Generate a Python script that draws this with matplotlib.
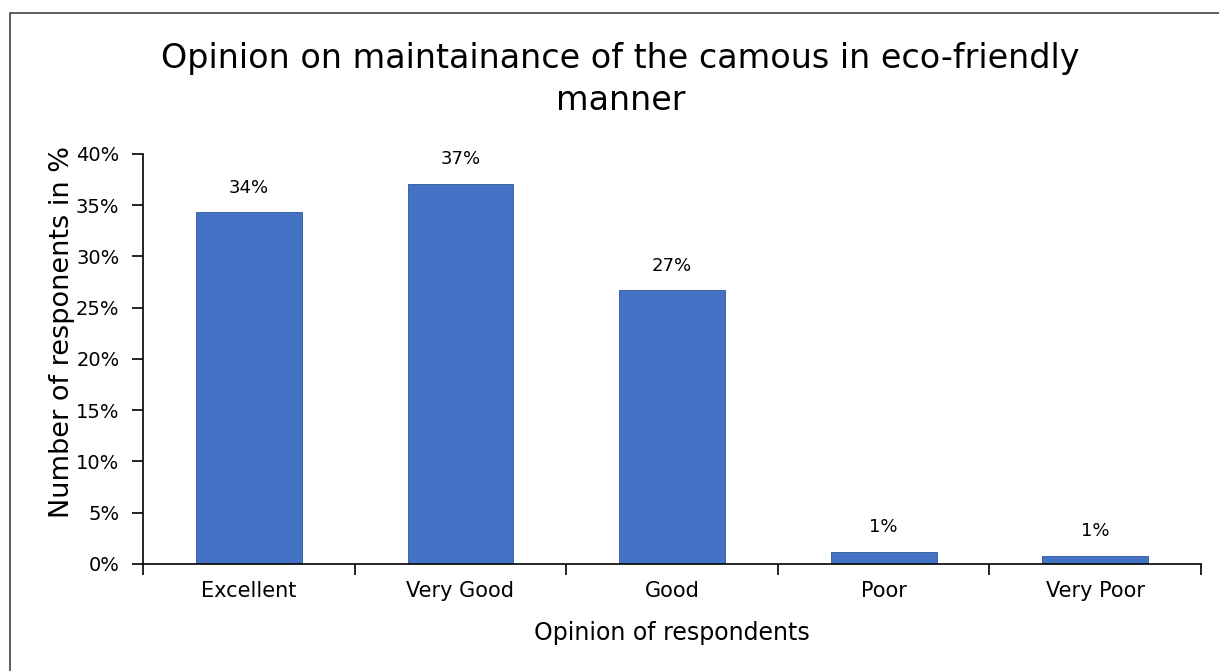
import matplotlib.pyplot as plt
from matplotlib.patches import Rectangle

categories = ["Excellent", "Very Good", "Good", "Poor", "Very Poor"]
values = [34.3, 37.1, 26.7, 1.2, 0.8]
labels = ["34%", "37%", "27%", "1%", "1%"]

plt.rcParams['font.family'] = ['DejaVu Sans']

fig = plt.figure(figsize=(12.19, 6.71), dpi=100)
ax = fig.add_axes([0.1173, 0.1595, 0.868, 0.611])

x = range(len(categories))
bars = ax.bar(x, values, width=0.5, color="#4472C4", edgecolor="#2F5597", linewidth=0.6)
for b, lab in zip(bars, labels):
    ax.text(b.get_x() + b.get_width() / 2, b.get_height() + 1.5, lab,
            ha="center", va="bottom", fontsize=13)

ax.set_xlim(-0.5, len(categories) - 0.5)
ax.set_ylim(0, 40)
ax.set_yticks(range(0, 41, 5))
ax.set_yticklabels([f"{v}%" for v in range(0, 41, 5)], fontsize=14)
ax.set_xticks(list(x))
ax.set_xticklabels(categories, fontsize=15)
ax.tick_params(axis="x", length=0, pad=12)
ax.set_xticks([i - 0.5 for i in range(len(categories) + 1)], minor=True)
ax.tick_params(axis="x", which="minor", length=8, width=1.2, direction="out")
ax.tick_params(axis="y", length=8, width=1.2, direction="out", pad=9)

for s in ["top", "right"]:
    ax.spines[s].set_visible(False)
ax.spines["left"].set_linewidth(1.2)
ax.spines["bottom"].set_linewidth(1.2)

ax.set_xlabel("Opinion of respondents", fontsize=17, labelpad=15)
ax.set_ylabel("Number of responents in %", fontsize=19.5)
ax.yaxis.set_label_coords(-0.064, 0.566)

fig.text(0.509, 0.882, "Opinion on maintainance of the camous in eco-friendly\nmanner",
         ha="center", va="center", fontsize=24, linespacing=1.35)

fig.patches.append(Rectangle((0.0085, -0.01), 1.0, 0.99, transform=fig.transFigure,
                             fill=False, edgecolor="#444444", linewidth=1.2))

fig.savefig("out.png", dpi=100)
